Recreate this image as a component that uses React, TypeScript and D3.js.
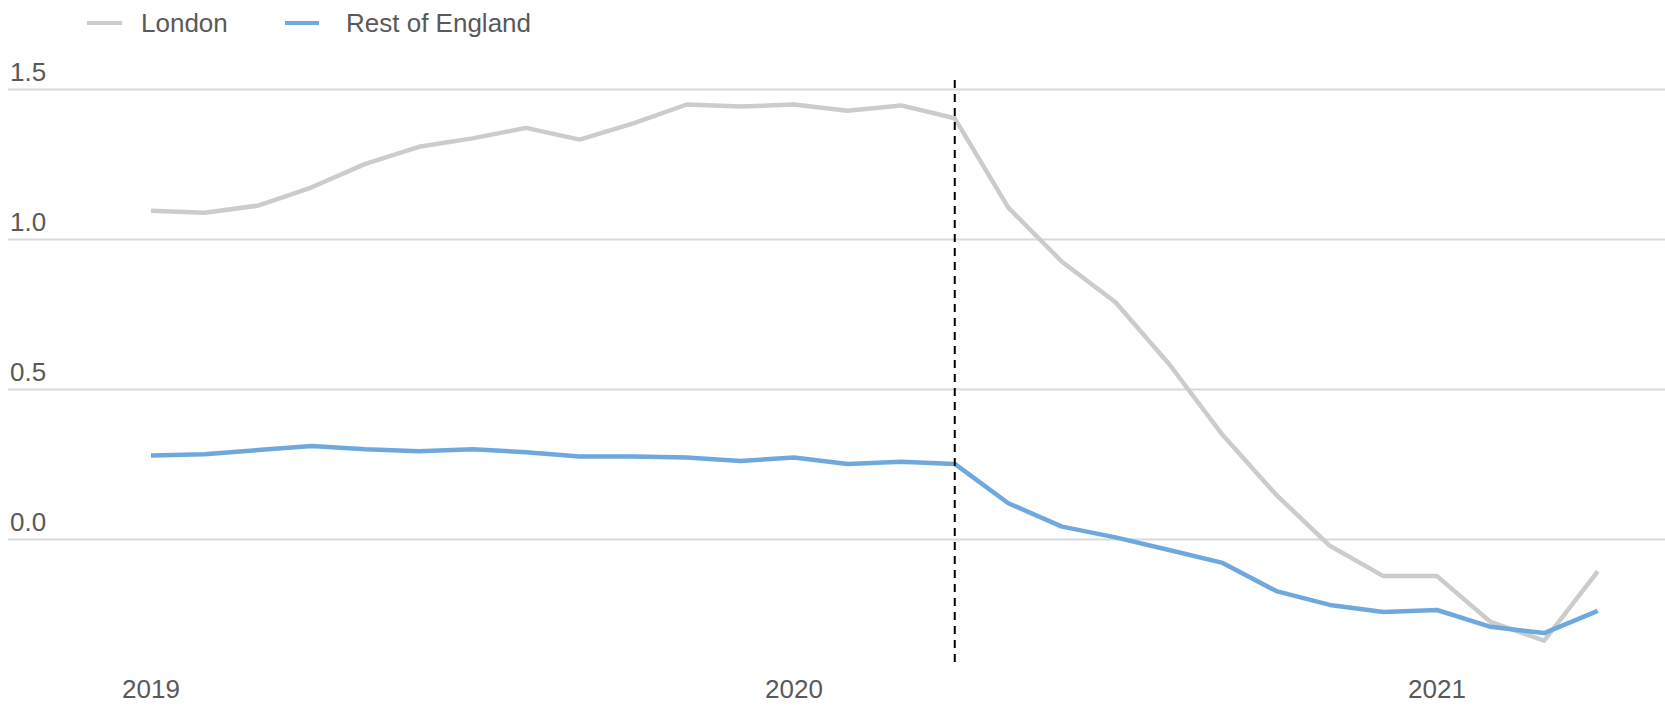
import React from 'react';
import * as d3 from 'd3';

// Monthly values, Jan 2019 .. Apr 2021
const months = d3.range(28).map((i) => new Date(2019, i, 1));
const london = [
    1.096, 1.089, 1.113, 1.174, 1.252, 1.309, 1.337, 1.372, 1.333, 1.387, 1.450, 1.443,
    1.450, 1.429, 1.447, 1.404, 1.106, 0.926, 0.791, 0.585, 0.348, 0.149, -0.021, -0.122,
    -0.122, -0.275, -0.337, -0.106,
];
const restOfEngland = [
    0.280, 0.284, 0.298, 0.312, 0.301, 0.294, 0.301, 0.291, 0.277, 0.277, 0.273, 0.262,
    0.273, 0.252, 0.259, 0.252, 0.121, 0.043, 0.007, -0.035, -0.078, -0.172, -0.218, -0.242,
    -0.235, -0.291, -0.312, -0.238,
];
const yTicks = [0, 0.5, 1.0, 1.5];
const yearTicks = [2019, 2020, 2021];
const markerMonth = new Date(2020, 3, 1);

const seriesList = [
    { name: 'London', values: london, color: '#cccccc' },
    { name: 'Rest of England', values: restOfEngland, color: '#6fa8dc' },
];

const width = 1665;
const height = 706;
const font = 'Arial, "Liberation Sans", sans-serif';
const textColor = '#595959';
const fontSize = 26;

const monthIndex = (d: Date) => (d.getFullYear() - 2019) * 12 + d.getMonth();

export default function App() {
    const xScale = d3.scaleLinear().domain([0, 24]).range([151, 1437]);
    const yScale = d3.scaleLinear().domain([0, 1.5]).range([539.5, 89.5]);

    const lineGen = (vals: number[]) =>
        d3.line<number>()
            .x((d, i) => xScale(monthIndex(months[i])))
            .y((d) => yScale(d))(vals) ?? '';

    const xm = xScale(monthIndex(markerMonth));

    return (
        <svg width={width} height={height} style={{ position: 'absolute', left: 0, top: 0 }}
            fontFamily={font}>
            <rect width={width} height={height} fill="#ffffff" />

            {/* grid + y labels */}
            {yTicks.map((t) => (
                <g key={t}>
                    <line x1={8} x2={width} y1={yScale(t)} y2={yScale(t)} stroke="#d9d9d9" strokeWidth={2} />
                    <text x={10} y={yScale(t) - 9} fontSize={fontSize} fill={textColor}>{t.toFixed(1)}</text>
                </g>
            ))}

            {/* year labels */}
            {yearTicks.map((yr) => (
                <text key={yr} x={xScale(monthIndex(new Date(yr, 0, 1)))} y={698} fontSize={fontSize}
                    fill={textColor} textAnchor="middle">{yr}</text>
            ))}

            {/* series */}
            {seriesList.map((s) => (
                <path key={s.name} d={lineGen(s.values)} fill="none" stroke={s.color}
                    strokeWidth={4.5} strokeLinejoin="round" />
            ))}

            {/* marker */}
            <line x1={xm} x2={xm} y1={80} y2={668} stroke="#000" strokeWidth={2} strokeDasharray="8,6" />

            {/* legend */}
            <g>
                <line x1={87} x2={122} y1={23} y2={23} stroke={seriesList[0].color} strokeWidth={4} />
                <text x={141} y={32} fontSize={fontSize} fill={textColor}>{seriesList[0].name}</text>
                <line x1={285} x2={319} y1={23} y2={23} stroke={seriesList[1].color} strokeWidth={4} />
                <text x={346} y={32} fontSize={fontSize} fill={textColor}>{seriesList[1].name}</text>
            </g>
        </svg>
    );
}
